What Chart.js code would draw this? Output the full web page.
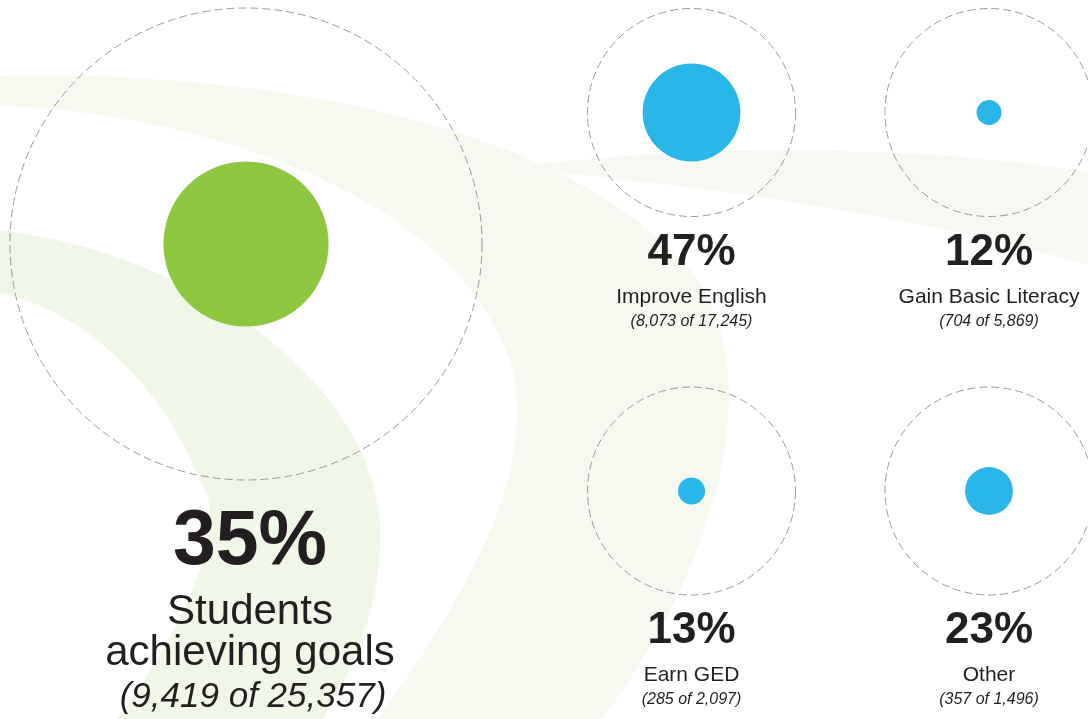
<!DOCTYPE html>
<html>
<head>
<meta charset="utf-8">
<script src="https://cdn.jsdelivr.net/npm/chart.js@4/dist/chart.umd.min.js"></script>
<style>
  html, body { margin: 0; padding: 0; background: #ffffff; }
  #wrap { width: 1088px; height: 719px; }
</style>
</head>
<body>
<div id="wrap"><canvas id="goals" width="1088" height="719"></canvas></div>
<script>
  // data, as printed on the graphic
  const categories = ['Students achieving goals', 'Improve English', 'Gain Basic Literacy', 'Earn GED', 'Other'];
  const percents = [35, 47, 12, 13, 23];
  const achieved = ['9,419', '8,073', '704', '285', '357'];
  const totals = ['25,357', '17,245', '5,869', '2,097', '1,496'];

  // layout (pixel space: x 0..1088, y 0..719)
  const centerX = [246, 691.5, 989, 691.5, 989];
  const centerY = [244, 112.5, 112.5, 491, 491];
  const ringRadius = [236, 104, 104, 104, 104];
  const fillColors = ['#8dc63f', '#29b6e8', '#29b6e8', '#29b6e8', '#29b6e8'];
  const inkColor = '#231f20';
  const fontFamily = '"Liberation Sans", Arial, Helvetica, sans-serif';

  const rings = categories.map((c, i) => ({ x: centerX[i], y: centerY[i], r: ringRadius[i] }));
  const dots = categories.map((c, i) => ({ x: centerX[i], y: centerY[i], r: ringRadius[i] * percents[i] / 100 }));

  // light green swooshes behind everything
  const swooshPlugin = {
    id: 'swoosh',
    beforeDatasetsDraw(chart) {
      const ctx = chart.ctx;
      ctx.save();

      // upper wide band
      ctx.fillStyle = '#f5f9ef';
      ctx.beginPath();
      ctx.moveTo(0, 76);
      ctx.bezierCurveTo(260, 70, 560, 120, 690, 270);
      ctx.bezierCurveTo(770, 370, 720, 560, 603, 719);
      ctx.lineTo(378, 719);
      ctx.bezierCurveTo(470, 590, 540, 470, 510, 360);
      ctx.bezierCurveTo(450, 190, 200, 115, 0, 105);
      ctx.closePath();
      ctx.fill();

      // lower band
      ctx.fillStyle = '#f1f7e8';
      ctx.beginPath();
      ctx.moveTo(0, 230);
      ctx.bezierCurveTo(170, 250, 350, 360, 377, 500);
      ctx.bezierCurveTo(390, 580, 360, 660, 323, 719);
      ctx.lineTo(118, 719);
      ctx.bezierCurveTo(190, 620, 230, 520, 200, 480);
      ctx.bezierCurveTo(160, 380, 80, 310, 0, 293);
      ctx.closePath();
      ctx.fill();

      // thin swoosh to the right
      ctx.fillStyle = '#f6f9f1';
      ctx.beginPath();
      ctx.moveTo(505, 168);
      ctx.bezierCurveTo(640, 150, 880, 138, 1088, 172);
      ctx.lineTo(1088, 265);
      ctx.bezierCurveTo(950, 225, 760, 190, 505, 168);
      ctx.closePath();
      ctx.fill();

      ctx.restore();
    }
  };

  // dashed outline for the ring dataset
  const dashPlugin = {
    id: 'dashRing',
    beforeDatasetDraw(chart, args) {
      if (args.index !== 0) return;
      chart.ctx.save();
      chart.ctx.setLineDash([8, 4]);
    },
    afterDatasetDraw(chart, args) {
      if (args.index !== 0) return;
      chart.ctx.restore();
    }
  };

  // percent, label and counts under each circle
  const labelPlugin = {
    id: 'goalLabels',
    afterDatasetsDraw(chart) {
      const ctx = chart.ctx;
      const xs = chart.scales.x, ys = chart.scales.y;
      ctx.save();
      ctx.fillStyle = inkColor;
      ctx.textAlign = 'center';
      ctx.textBaseline = 'alphabetic';
      categories.forEach((cat, i) => {
        const x = xs.getPixelForValue(centerX[i]);
        const base = ys.getPixelForValue(centerY[i]) + ringRadius[i];
        const counts = '(' + achieved[i] + ' of ' + totals[i] + ')';
        if (i === 0) {
          ctx.font = 'bold 77px ' + fontFamily;
          ctx.fillText(percents[i] + '%', x + 4, base + 84);
          ctx.font = '42px ' + fontFamily;
          ctx.fillText('Students', x + 4, base + 144);
          ctx.fillText('achieving goals', x + 4, base + 185);
          ctx.font = 'italic 35px ' + fontFamily;
          ctx.fillText(counts, x + 7, base + 227);
        } else {
          ctx.font = 'bold 44px ' + fontFamily;
          ctx.fillText(percents[i] + '%', x, base + 48);
          ctx.font = '21px ' + fontFamily;
          ctx.fillText(cat, x, base + 86);
          ctx.font = 'italic 16px ' + fontFamily;
          ctx.fillText(counts, x, base + 109);
        }
      });
      ctx.restore();
    }
  };

  new Chart(document.getElementById('goals'), {
    type: 'bubble',
    data: {
      datasets: [
        {
          label: 'Enrolled',
          data: rings,
          backgroundColor: 'rgba(0,0,0,0)',
          borderColor: '#9a9a9a',
          borderWidth: 1,
          hoverBorderWidth: 1
        },
        {
          label: 'Achieved',
          data: dots,
          backgroundColor: fillColors,
          borderWidth: 0,
          hoverBorderWidth: 0
        }
      ]
    },
    options: {
      responsive: false,
      animation: false,
      events: [],
      layout: { padding: 0, autoPadding: false },
      clip: false,
      plugins: {
        legend: { display: false },
        tooltip: { enabled: false }
      },
      scales: {
        x: { type: 'linear', min: 0, max: 1088, display: false },
        y: { type: 'linear', min: 0, max: 719, reverse: true, display: false }
      }
    },
    plugins: [swooshPlugin, dashPlugin, labelPlugin]
  });
</script>
</body>
</html>
